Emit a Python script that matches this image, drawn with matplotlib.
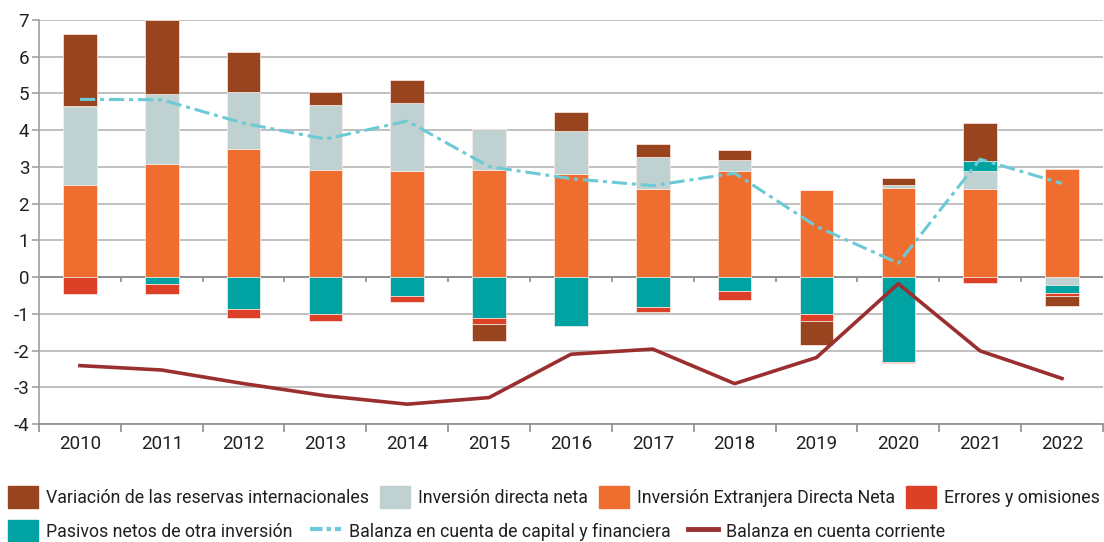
import matplotlib
matplotlib.use("Agg")
import matplotlib.pyplot as plt
import numpy as np
from matplotlib.lines import Line2D
from matplotlib.patches import Patch

plt.rcParams['font.family'] = ['Roboto', 'DejaVu Sans']
plt.rcParams['axes.unicode_minus'] = False

years = ["2010", "2011", "2012", "2013", "2014", "2015", "2016",
         "2017", "2018", "2019", "2020", "2021", "2022"]

# stacked components (% of GDP)
ied = [2.50, 3.09, 3.49, 2.92, 2.89, 2.93, 2.82, 2.39, 2.88, 2.36, 2.44, 2.39, 2.95]
idn = [2.13, 1.89, 1.55, 1.78, 1.84, 1.11, 1.15, 0.88, 0.31, 0.0, 0.07, 0.50, -0.21]
pasivos = [0.03, -0.19, -0.87, -1.00, -0.52, -1.10, -1.34, -0.82, -0.39, -1.00, -2.31, 0.28, -0.23]
errores = [-0.45, -0.28, -0.25, -0.19, -0.16, -0.18, 0.0, -0.14, -0.24, -0.20, -0.04, -0.17, -0.08]
reservas = [1.97, 2.02, 1.09, 0.35, 0.63, -0.45, 0.53, 0.36, 0.28, -0.64, 0.19, 1.04, -0.26]

# lines
capital_fin = [4.84, 4.83, 4.19, 3.76, 4.25, 3.01, 2.68, 2.49, 2.83, 1.38, 0.38, 3.21, 2.55]
corriente = [-2.41, -2.53, -2.90, -3.23, -3.46, -3.28, -2.10, -1.96, -2.90, -2.19, -0.18, -2.01, -2.76]

c_res = "#98441F"
c_idn = "#BFD1D0"
c_ied = "#F06D30"
c_err = "#DC4127"
c_pas = "#00A3A1"
c_cap = "#6CCAD6"
c_cor = "#9B2F2F"
txt = "#231F20"

fig = plt.figure(figsize=(11.04, 5.42), dpi=100)
ax = fig.add_axes([0.0353, 0.2177, 0.9637, 0.7453])

x = np.arange(len(years))
pos = np.zeros(len(years))
neg = np.zeros(len(years))
for vals, col in [(ied, c_ied), (idn, c_idn), (pasivos, c_pas), (errores, c_err), (reservas, c_res)]:
    v = np.array(vals)
    bottom = np.where(v >= 0, pos, neg)
    ax.bar(x, v, 0.41, bottom=bottom, color=col, edgecolor="#FBEDE8", linewidth=0.5, zorder=3)
    pos = pos + np.where(v >= 0, v, 0)
    neg = neg + np.where(v < 0, v, 0)

ax.plot(x, capital_fin, color=c_cap, lw=2.2, dashes=(5, 1.6, 1.3, 1.6), zorder=4)
ax.plot(x, corriente, color=c_cor, lw=2.6, zorder=4)

ax.set_xlim(-0.5, len(years) - 0.5)
ax.set_ylim(-4, 7)
ax.set_yticks(range(-4, 8))
ax.set_yticklabels([str(v) for v in range(-4, 8)])
ax.set_xticks(x)
ax.set_xticklabels(years)
ax.set_xticks(np.arange(len(years) + 1) - 0.5, minor=True)
ax.tick_params(axis="x", which="major", length=0, pad=8, labelsize=13.5, colors=txt)
ax.tick_params(axis="x", which="minor", length=6, width=1.2, color="#8C8C8C")
ax.tick_params(axis="y", length=5, width=1.2, color="#A0A0A0", labelsize=13.5, labelcolor=txt, pad=2)

ax.grid(axis="y", color="#B5B5B5", lw=1.2, zorder=0)
ax.axhline(0, color="#8C8C8C", lw=1.3, zorder=2)
ax.vlines(np.arange(1, len(years)) - 0.5, 0, -0.12, color="#8C8C8C", lw=1.2, zorder=2)
for s in ["top", "right"]:
    ax.spines[s].set_visible(False)
ax.spines["left"].set_color("#A0A0A0")
ax.spines["left"].set_linewidth(1.2)
ax.spines["bottom"].set_color("#8C8C8C")
ax.spines["bottom"].set_linewidth(1.2)

h1 = [Patch(color=c_res), Patch(color=c_idn), Patch(color=c_ied), Patch(color=c_err)]
l1 = ["Variación de las reservas internacionales", "Inversión directa neta",
      "Inversión Extranjera Directa Neta", "Errores y omisiones"]
h2 = [Patch(color=c_pas),
      Line2D([], [], color=c_cap, lw=3, dashes=(3, 1, 1, 1)),
      Line2D([], [], color=c_cor, lw=3.5)]
l2 = ["Pasivos netos de otra inversión", "Balanza en cuenta de capital y financiera",
      "Balanza en cuenta corriente"]

common = dict(frameon=False, fontsize=12.8, handlelength=1.7, handleheight=1.5,
              handletextpad=0.45, borderaxespad=0, borderpad=0.2, labelcolor=txt)
leg1 = fig.legend(h1, l1, ncol=4, loc="center left", bbox_to_anchor=(0.004, 0.083),
                  columnspacing=0.6, **common)
leg2 = fig.legend(h2, l2, ncol=3, loc="center left", bbox_to_anchor=(0.004, 0.02),
                  columnspacing=1.0, **common)

fig.savefig("out.png", dpi=100)
